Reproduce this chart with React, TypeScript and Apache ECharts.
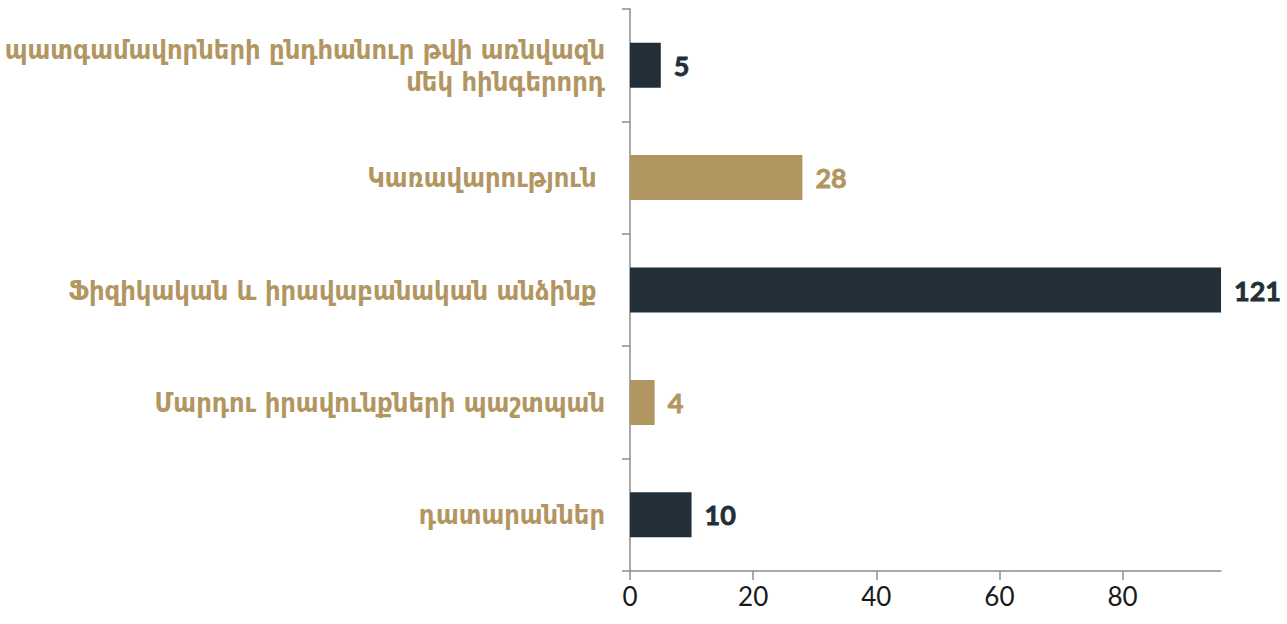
import React, { useEffect, useRef } from "react";
import * as echarts from "echarts";

const categories = [
  "պատգամավորների ընդհանուր թվի առնվազն\nմեկ հինգերորդ",
  "Կառավարություն ",
  "Ֆիզիկական և իրավաբանական անձինք ",
  "Մարդու իրավունքների պաշտպան",
  "դատարաններ",
];
const values = [5, 28, 121, 4, 10];
const barColors = ["#232f38", "#b29661", "#232f38", "#b29661", "#232f38"];
const xTicks = [0, 20, 40, 60, 80];
const xMax = 96;

export default function App() {
  const ref = useRef<HTMLDivElement>(null);
  useEffect(() => {
    if (!ref.current) return;
    const chart = echarts.init(ref.current, undefined, { renderer: "svg" });
    const valueLabelFont = "Lato, 'Liberation Sans', sans-serif";
    chart.setOption({
      animation: false,
      grid: { left: 630, right: 66, top: 9, bottom: 53, containLabel: false },
      xAxis: {
        type: "value",
        min: 0,
        max: xMax,
        interval: 20,
        axisLine: { show: true, lineStyle: { color: "#8c8c8c", width: 1.5 } },
        axisTick: { show: true, length: 9, lineStyle: { color: "#8c8c8c", width: 1.5 }, customValues: xTicks },
        axisLabel: {
          customValues: xTicks,
          color: "#1a1a1a",
          fontSize: 26,
          margin: 12,
          fontFamily: "Lato, 'Liberation Sans', sans-serif",
        },
        splitLine: { show: false },
      },
      yAxis: {
        type: "category",
        inverse: true,
        data: categories,
        axisLine: { show: true, lineStyle: { color: "#8c8c8c", width: 1.5 } },
        axisTick: { show: true, length: 8, alignWithLabel: false, lineStyle: { color: "#8c8c8c", width: 1.5 } },
        axisLabel: {
          color: "#b29661",
          fontSize: 27,
          fontWeight: "bold",
          margin: 25,
          lineHeight: 32,
          align: "right",
          fontFamily: "'DejaVu Sans Condensed', 'DejaVu Sans', sans-serif",
        },
      },
      series: [
        {
          type: "bar",
          barWidth: "40%",
          clip: true,
          data: values.map((v, i) => ({
            value: v,
            itemStyle: { color: barColors[i] },
            label: {
              show: true,
              position: "right",
              distance: 13,
              color: barColors[i],
              textBorderColor: barColors[i],
              textBorderWidth: 0.8,
              fontSize: 27,
              fontWeight: "bold",
              fontFamily: valueLabelFont,
            },
          })),
          label: {
            show: true,
            position: "right",
            distance: 13,
            fontSize: 27,
            fontWeight: "bold",
            fontFamily: valueLabelFont,
          },
        },
      ],
    });
    return () => chart.dispose();
  }, []);
  return (
    <div
      ref={ref}
      style={{ position: "absolute", left: 0, top: 0, width: 1287, height: 624, background: "#fff" }}
    />
  );
}
